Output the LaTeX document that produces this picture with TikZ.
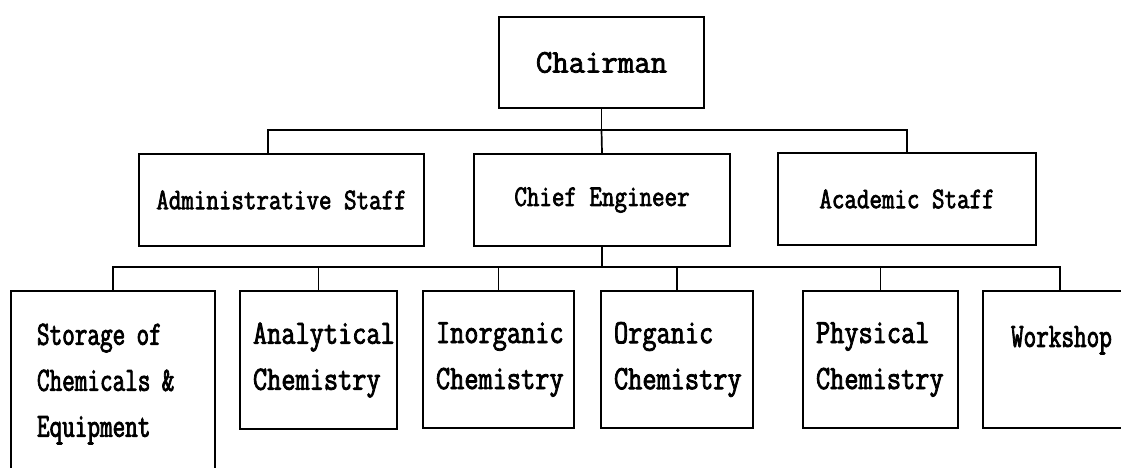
\documentclass[tikz,border=0pt]{standalone}
\usepackage{fontspec}
\newfontfamily\fUp[FakeStretch=0.81,FakeBold=2.3]{Latin Modern Mono}
\newfontfamily\fChair[FakeStretch=0.965,FakeBold=2.3]{Latin Modern Mono}
\newfontfamily\fLow[FakeStretch=0.81,FakeBold=2.3]{Latin Modern Mono}
\newfontfamily\fNarrow[FakeStretch=0.72,FakeBold=2.3]{Latin Modern Mono}
\hyphenpenalty=10000
\hfuzz=200pt
\hbadness=10000
\begin{document}
\begin{tikzpicture}[x=1pt,y=-1pt,
  box/.style={draw, line width=2pt, inner ysep=0pt, anchor=north west},
  upbox/.style={box, inner xsep=0pt, align=center, minimum height=92pt,
    font=\fUp\fontsize{30}{36}\selectfont},
  lowbox/.style={box, align=left, inner xsep=13pt,
    font=\fLow\fontsize{34}{46}\selectfont},
  narrowbox/.style={lowbox, font=\fNarrow\fontsize{34}{46}\selectfont},
  conn/.style={line width=1.7pt}]
\useasboundingbox (0,0) rectangle (1121,468);
\clip (0,0) rectangle (1121,468);
\fill[white] (0,0) rectangle (1121,468);

% top
\node[upbox, minimum width=205pt, minimum height=91pt,
      font=\fChair\fontsize{33}{40}\selectfont] (chair) at (498,16) {Chairman};

% second row
\node[upbox, minimum width=285pt] (admin) at (138,153) {Administrative Staff};
\node[upbox, minimum width=256pt] (chief) at (473,153) {Chief Engineer};
\node[upbox, minimum width=258pt] (acad)  at (777,152) {Academic Staff};

% bottom row
\node[narrowbox, inner xsep=26pt, text width=152pt, minimum height=186pt] (store) at (10,290)
  {Storage of\\Chemicals \&\\Equipment};
\node[lowbox, text width=131pt, minimum height=138pt] (anal) at (239,290)
  {Analytical\\Chemistry};
\node[lowbox, text width=125pt, minimum height=137pt] (inorg) at (422,290)
  {Inorganic\\Chemistry};
\node[lowbox, text width=126pt, minimum height=137pt] (org) at (600,290)
  {Organic\\Chemistry};
\node[lowbox, text width=129pt, minimum height=137pt] (phys) at (802,290)
  {Physical\\Chemistry};
\node[narrowbox, inner xsep=28pt, text width=98pt, minimum height=137pt] (work) at (982,290)
  {Workshop\\~};

% connectors, upper level
\coordinate (bus1) at (0,130);
\coordinate (bus2) at (0,267);
\draw[conn] (chair.south) -- (chair.south |- bus1);
\draw[conn] ([xshift=-13.5pt]admin.north) -- ([xshift=-13.5pt]admin.north |- bus1)
  -- (acad.north |- bus1) -- (acad.north);
\draw[conn] (chair.south |- bus1) -- (chief.north);

% connectors, lower level
\draw[conn] (chief.south) -- (chief.south |- bus2);
\draw[conn] (store.north) -- (store.north |- bus2) -- (work.north |- bus2) -- (work.north);
\foreach \n in {anal,inorg,org,phys}
  \draw[conn] (\n.north) -- (\n.north |- bus2);
\end{tikzpicture}
\end{document}
